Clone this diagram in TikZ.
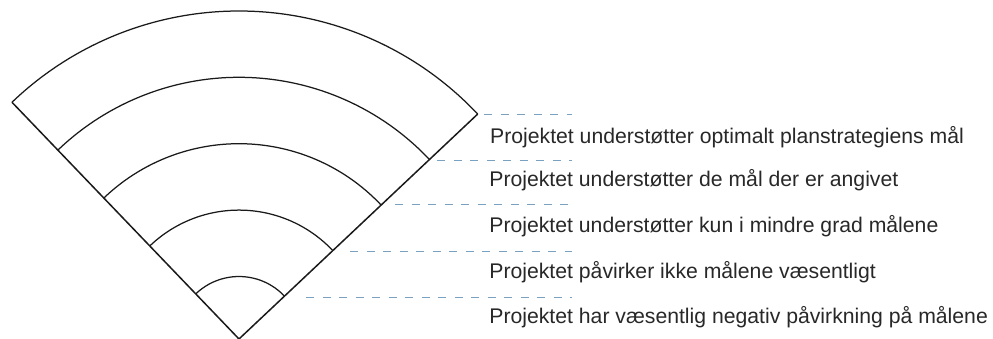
\documentclass[tikz,border=0pt]{standalone}
\usepackage{fontspec}
\setmainfont{Liberation Sans}
\definecolor{edgecol}{RGB}{26,26,26}
\definecolor{dashcol}{RGB}{122,162,192}
\definecolor{txtcol}{RGB}{40,40,40}
\begin{document}
\begin{tikzpicture}[x=1pt,y=1pt,
  fanline/.style={draw=edgecol,line width=1.25pt},
  fanedge/.style={draw=edgecol,line width=1.5pt},
  levelline/.style={draw=dashcol,line width=1.3pt,dash pattern=on 8pt off 8.5pt},
  leveltext/.style={anchor=base west,inner sep=0pt,text=txtcol,font=\fontsize{21.2}{25}\selectfont}]
\useasboundingbox (0,0) rectangle (993,339);
\coordinate (A) at (239,0);
% edges
\coordinate (L) at ([shift={(133.8:328)}]A);
\coordinate (R) at ([shift={(43.3:328)}]A);
\draw[fanedge] (L) -- (A) -- (R);
% arcs
\foreach \r in {62.5,128.9,195.3,261.7,328}{
  \draw[fanline] ([shift={(43.3:\r)}]A) arc[start angle=43.3,end angle=133.8,radius=\r];
}
% dashed level lines
\draw[levelline] (484,224.7) -- (572,224.7);
\draw[levelline] (437.3,178.3) -- (572,178.3);
\draw[levelline] (395,134.5) -- (572,134.5);
\draw[levelline] (350,87.3) -- (572,87.3);
\draw[levelline] (306,41.7) -- (572,41.7);
% texts
\node[leveltext] (t1) at (490,195.5) {Projektet understøtter optimalt planstrategiens mål};
\node[leveltext] (t2) at (489.2,152.3) {Projektet understøtter de mål der er angivet};
\node[leveltext] (t3) at (489.2,106.5) {Projektet understøtter kun i mindre grad målene};
\node[leveltext] (t4) at (489.2,60.5) {Projektet påvirker ikke målene væsentligt};
\node[leveltext] (t5) at (489.2,15) {Projektet har væsentlig negativ påvirkning på målene};
\end{tikzpicture}
\end{document}
